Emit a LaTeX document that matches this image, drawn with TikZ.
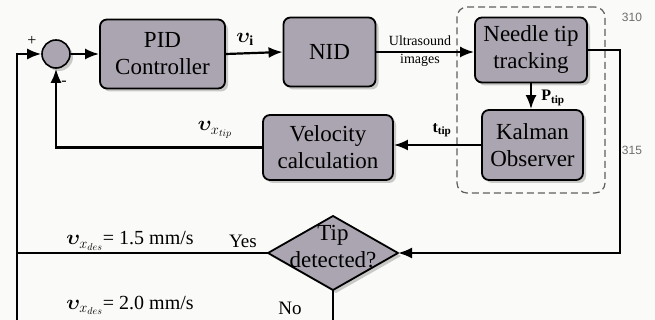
\documentclass[tikz,border=0pt]{standalone}
\usepackage{fontspec}
\usepackage{bm}
\setmainfont{Liberation Serif}
\newfontfamily\numfont{Liberation Sans}
\usetikzlibrary{shadows,arrows.meta,calc}
\definecolor{boxgray}{RGB}{170,165,176}
\definecolor{dashgray}{RGB}{95,95,95}
\definecolor{papercol}{RGB}{250,250,248}
\definecolor{numgray}{RGB}{110,110,110}
\begin{document}
\begin{tikzpicture}[x=1pt,y=-1pt,
  shad/.style={drop shadow={shadow xshift=3pt,shadow yshift=-3pt,fill=black!40}},
  blk/.style={draw=black, line width=1.8pt, fill=boxgray, rounded corners=7pt, shad,
    align=center, font=\fontsize{23}{27}\selectfont, inner sep=0pt},
  conn/.style={line width=2.2pt},
  arr/.style={conn, -{Latex[length=14pt,width=11pt]}},
  lbl/.style={inner sep=0pt, font=\fontsize{20}{24}\selectfont},
  small/.style={inner sep=0pt, align=center, font=\fontsize{14}{18}\selectfont},
  bsub/.style={inner sep=0pt, font=\fontsize{16}{18}\selectfont\bfseries},
  lineno/.style={inner sep=0pt, text=numgray, font=\numfont\fontsize{12}{14}\selectfont},
  group/.style={draw=dashgray, line width=1.2pt, dash pattern=on 7pt off 4pt, rounded corners=10pt, inner sep=0pt}
]
\useasboundingbox (0,0) rectangle (655,320);
\clip (0,0) rectangle (655,320);
\fill[papercol] (0,0) rectangle (655,320);

% group box
\node[group, minimum width=148pt, minimum height=186pt] (grp) at (531,100) {};

% blocks
\node[circle, draw=black, line width=1.6pt, fill=boxgray, shad, minimum size=28pt, inner sep=0pt] (S) at (56,54) {};
\node[blk, minimum width=125pt, minimum height=69pt] (PID) at (162.5,54) {PID\\Controller};
\node[blk, minimum width=92pt, minimum height=69pt] (NID) at (329.5,52) {NID};
\node[blk, minimum width=112pt, minimum height=65pt] (Needle) at (531,50) {Needle tip\\tracking};
\node[blk, minimum width=101pt, minimum height=70pt] (Kalman) at (532.5,145) {Kalman\\Observer};
\node[blk, minimum width=130pt, minimum height=65pt] (Vel) at (328,147.5) {Velocity\\calculation};

% decision diamond
\coordinate (dT) at (333,216);
\coordinate (dR) at (398,253);
\coordinate (dB) at (333,290);
\coordinate (dL) at (268,253);
\filldraw[draw=black, line width=1.8pt, fill=boxgray, shad, line join=round] (dT) -- (dR) -- (dB) -- (dL) -- cycle;
\node[inner sep=0pt, align=center, font=\fontsize{23}{27}\selectfont] (Dtxt) at (333,247) {Tip\\detected?};

% helper coordinates
\coordinate (IN) at (17,54);
\coordinate (Rx) at (620,0);
\coordinate (BL) at (17,324);

% connectors
\draw[arr] (dL) -| (IN) -- (S.west);
\draw[arr] (S.east) -- (PID.west);
\draw[arr] (PID.east) -- (NID.west);
\draw[arr] (NID.east) -- (NID.east -| Needle.west);
\draw[arr] (Needle.south) -- (Needle.south |- Kalman.north);
\draw[arr] (Kalman.west) -- (Kalman.west -| Vel.east);
\draw[arr] (Vel.west) -| (S.south);
\draw[arr] (Needle.east) -| (Rx |- dR) -- (dR);
\draw[conn] (dB) |- (BL) -- (BL |- dL);

% labels
\node[inner sep=0pt, font=\fontsize{16}{18}\selectfont] (plus) at (32,41) {+};
\node[inner sep=0pt, font=\fontsize{16}{18}\selectfont] (minus) at (64,83) {-};
\node[lbl] (vi) at (245,39) {$\bm{\upsilon}_{\mathbf{i}}$};
\node[small] (us) at (420,51) {Ultrasound\\images};
\node[bsub] (ptip) at (553,98) {P\textsubscript{tip}};
\node[bsub] (ttip) at (442,130) {t\textsubscript{tip}};
\node[lbl] (vtip) at (215,130) {$\bm{\upsilon}_{x_{tip}}$};
\node[lbl] (v15) at (130,241) {$\bm{\upsilon}_{x_{des}}$= 1.5 mm/s};
\node[lbl, font=\fontsize{19}{22}\selectfont] (yes) at (243,241) {Yes};
\node[lbl] (v20) at (130,305) {$\bm{\upsilon}_{x_{des}}$= 2.0 mm/s};
\node[lbl, font=\fontsize{19}{22}\selectfont] (no) at (290,308) {No};

% line numbers
\node[lineno] (n310) at (632,17) {310};
\node[lineno] (n315) at (632,150) {315};
\end{tikzpicture}
\end{document}
